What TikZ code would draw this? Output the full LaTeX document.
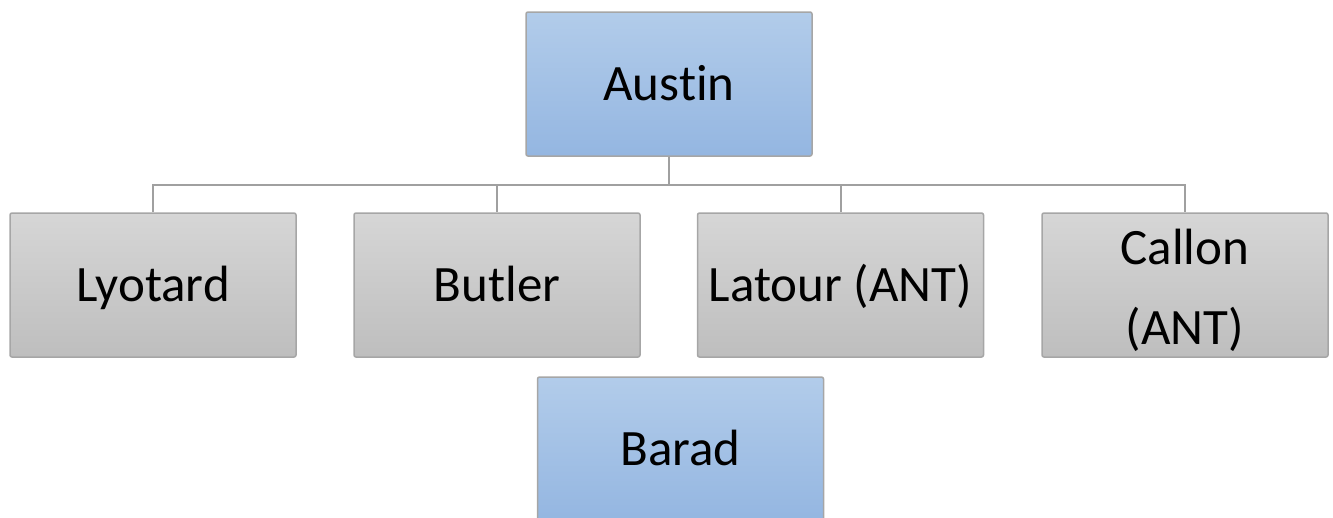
\documentclass[tikz,border=0pt]{standalone}
\usepackage{fontspec}
\setmainfont{Carlito}[Ligatures={NoCommon}]
\usetikzlibrary{positioning}

\definecolor{boxline}{HTML}{A6A6A6}
\definecolor{linkgray}{HTML}{A0A0A0}
\definecolor{bluetop}{HTML}{B2CCEA}
\definecolor{bluebot}{HTML}{94B6E1}
\definecolor{graytop}{HTML}{D6D6D6}
\definecolor{graybot}{HTML}{BEBEBE}

\begin{document}
\begin{tikzpicture}[x=1pt, y=-1pt,
    card/.style={draw=boxline, line width=1.5pt, rounded corners=2pt,
        minimum width=286pt, minimum height=144pt, inner sep=0pt,
        text height=33pt, text depth=0pt,
        align=center, font=\fontsize{51}{80}\selectfont},
    bluecard/.style={card, top color=bluetop, bottom color=bluebot},
    graycard/.style={card, top color=graytop, bottom color=graybot},
    link/.style={draw=linkgray, line width=2pt}]
    \useasboundingbox (0,0) rectangle (1333,517);
    \clip (0,0) rectangle (1333,517);
    \node[bluecard] (austin) at (669,84) {Austin};
    \node[graycard] (lyotard) at (153,285) {Lyotard};
    \node[graycard] (butler) at (497,285) {Butler};
    \node[graycard] (latour) at (840.5,285) {Latour (ANT)};
    \node[graycard, text height=, text depth=] (callon) at (1185,285)
        {\rule{0pt}{47pt}Callon\\(ANT)};
    \node[bluecard] (barad) at (680.5,449) {Barad};
    % tree lines
    \coordinate (hub) at (669,185);
    \draw[link] (austin.south) -- (hub);
    \foreach \n in {lyotard, butler, latour, callon}
        \draw[link] (hub) -| (\n.north);
\end{tikzpicture}
\end{document}
